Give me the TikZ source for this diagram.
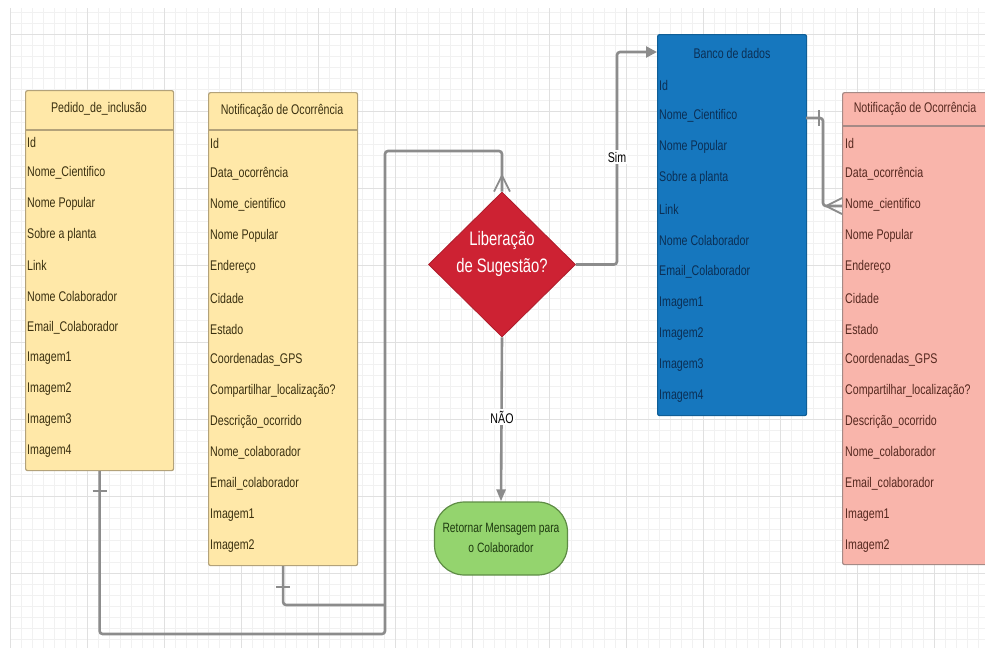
\documentclass[tikz,border=0pt]{standalone}
\usepackage{fontspec}
\setmainfont{Liberation Sans}[FakeStretch=0.76]
\usetikzlibrary{arrows.meta,shapes.geometric}
\definecolor{gridminor}{HTML}{F1F1F1}
\definecolor{gridmajor}{HTML}{E0E0E0}
\definecolor{yfill}{HTML}{FFE8A8}
\definecolor{yborder}{HTML}{B3A27A}
\definecolor{ytext}{HTML}{3A3010}
\definecolor{bfill}{HTML}{1677BE}
\definecolor{bborder}{HTML}{0F5E96}
\definecolor{btext}{HTML}{0B2F55}
\definecolor{pfill}{HTML}{F9B5AB}
\definecolor{pborder}{HTML}{A58A86}
\definecolor{ptext}{HTML}{55281F}
\definecolor{dfill}{HTML}{CD2233}
\definecolor{gfill}{HTML}{94D46E}
\definecolor{gborder}{HTML}{5E8C45}
\definecolor{gtext}{HTML}{1E3A10}
\definecolor{conn}{HTML}{8C8C8C}
\begin{document}
\begin{tikzpicture}[x=1pt,y=-1pt,
  tbl/.style={draw, line width=1.2pt, rounded corners=2pt, anchor=north west, inner sep=0pt},
  row/.style={anchor=west, inner sep=0pt, font=\fontsize{14}{16}\selectfont},
  hdr/.style={anchor=center, inner sep=0pt, font=\fontsize{14}{16}\selectfont},
  lbl/.style={fill=white, inner sep=1.5pt, text=black, font=\fontsize{14}{16}\selectfont},
  wire/.style={draw=conn, line width=2.6pt, rounded corners=3pt},
  tick/.style={draw=conn, line width=2pt},
]
\useasboundingbox (0,0) rectangle (985,648);
\clip (0,0) rectangle (985,648);
\fill[white] (0,0) rectangle (985,648);
% grid
\foreach \gx in {10,21,...,985} \draw[gridminor, line width=0.7pt] (\gx,8) -- (\gx,648);
\foreach \gy in {12,23,...,648} \draw[gridminor, line width=0.7pt] (10,\gy) -- (985,\gy);
\foreach \gx in {10,87,...,985} \draw[gridmajor, line width=0.9pt] (\gx,8) -- (\gx,648);
\foreach \gy in {34,111,...,648} \draw[gridmajor, line width=0.9pt] (10,\gy) -- (985,\gy);

% Pedido de inclusao
\node[tbl, draw=yborder, fill=yfill, minimum width=148pt, minimum height=380pt] (ped) at (25,90) {};
\draw[yborder, line width=1.6pt] (25,130) -- (173,130);
\node[hdr, text=ytext] (pedh) at (99,109) {Pedido\_de\_inclusão};
\foreach \t [count=\i] in {Id, Nome\_Cientifico, Nome Popular, Sobre a planta, Link, Nome Colaborador, Email\_Colaborador, Imagem1, Imagem2, Imagem3, Imagem4}
  \node[row, text=ytext] (ped\i) at (27,{142+(\i-1)*30.9}) {\t};

% Notificacao (yellow)
\node[tbl, draw=yborder, fill=yfill, minimum width=149pt, minimum height=473pt] (nt) at (208,92) {};
\draw[yborder, line width=1.6pt] (208,130) -- (357,130);
\node[hdr, text=ytext] (nth) at (282,111) {Notificação de Ocorrência};
\foreach \t [count=\i] in {Id, Data\_ocorrência, Nome\_cientifico, Nome Popular, Endereço, Cidade, Estado, Coordenadas\_GPS, Compartilhar\_localização?, Descrição\_ocorrido, Nome\_colaborador, Email\_colaborador, Imagem1, Imagem2}
  \node[row, text=ytext] (nt\i) at (210,{143+(\i-1)*31}) {\t};

% Banco de dados (blue)
\node[tbl, draw=bborder, fill=bfill, minimum width=149pt, minimum height=381pt] (ban) at (657,34) {};
\node[hdr, text=btext] (banh) at (732,53) {Banco de dados};
\foreach \t [count=\i] in {Id, Nome\_Cientifico, Nome Popular, Sobre a planta, Link, Nome Colaborador, Email\_Colaborador, Imagem1, Imagem2, Imagem3, Imagem4}
  \node[row, text=btext] (ban\i) at (659,{85+(\i-1)*31.1}) {\t};

% Notificacao (pink)
\node[tbl, draw=pborder, fill=pfill, minimum width=160pt, minimum height=472pt] (pk) at (842,92) {};
\draw[pborder, line width=1.6pt] (842,126) -- (1000,126);
\node[hdr, text=ptext] (pkh) at (915,109) {Notificação de Ocorrência};
\foreach \t [count=\i] in {Id, Data\_ocorrência, Nome\_cientifico, Nome Popular, Endereço, Cidade, Estado, Coordenadas\_GPS, Compartilhar\_localização?, Descrição\_ocorrido, Nome\_colaborador, Email\_colaborador, Imagem1, Imagem2}
  \node[row, text=ptext] (pk\i) at (845,{143+(\i-1)*31}) {\t};

% Decision diamond
\node[diamond, fill=dfill, draw=dfill!85!black, line width=0.8pt, minimum width=147pt, minimum height=145pt, inner sep=0pt] (dia) at (502,264.5) {};
\node[align=center, text=white, inner sep=0pt, font=\fontsize{19.5}{27}\selectfont] (diat) at (502,254) {Liberação\\de Sugestão?};

% Green terminator
\node[draw=gborder, fill=gfill, line width=1.2pt, rounded corners=30pt, minimum width=133pt, minimum height=73pt, inner sep=0pt] (grn) at (501,538.5) {};
\node[align=center, text=gtext, inner sep=0pt, font=\fontsize{13.5}{20}\selectfont] (grnt) at (501,538) {Retornar Mensagem para\\o Colaborador};

% Connectors
\coordinate (j1) at (385,634);
\coordinate (j2) at (385,151);
\coordinate (j3) at (385,605);
\draw[wire] (ped.south) |- (j1) -- (j2) -| (dia.north);
\draw[wire] (nt.south) |- (j3);
\draw[tick] ([shift={(-7,20)}]ped.south) -- ([shift={(7,20)}]ped.south);
\draw[tick] ([shift={(-7,21)}]nt.south) -- ([shift={(7,21)}]nt.south);
% crow's foot at diamond top
\draw[tick, line width=1.8pt] ([yshift=16pt]dia.north) -- ([xshift=-8pt]dia.north);
\draw[tick, line width=1.8pt] ([yshift=16pt]dia.north) -- ([xshift=8pt]dia.north);

% Sim branch
\coordinate (s1) at (617,52);
\draw[wire, -{Triangle[length=11pt,width=11pt]}] (dia.east) -| (s1) -- (s1 -| ban.west);
\node[lbl] (sim) at (617,157) {Sim};

% NAO branch
\draw[wire, -{Triangle[length=12pt,width=9pt]}] (dia.south) -- (grn.north);
\node[lbl] (nao) at (502,417) {NÃO};

% Banco -> pink
\coordinate (bo) at (806,118);
\coordinate (pi) at (842,206);
\draw[wire] (bo) -- ++(17,0) |- (pi);
\draw[tick] (819,110) -- (819,126);
\draw[tick, line width=1.8pt] ([xshift=-16pt]pi) -- ([yshift=-8pt]pi);
\draw[tick, line width=1.8pt] ([xshift=-16pt]pi) -- ([yshift=8pt]pi);
\end{tikzpicture}
\end{document}
